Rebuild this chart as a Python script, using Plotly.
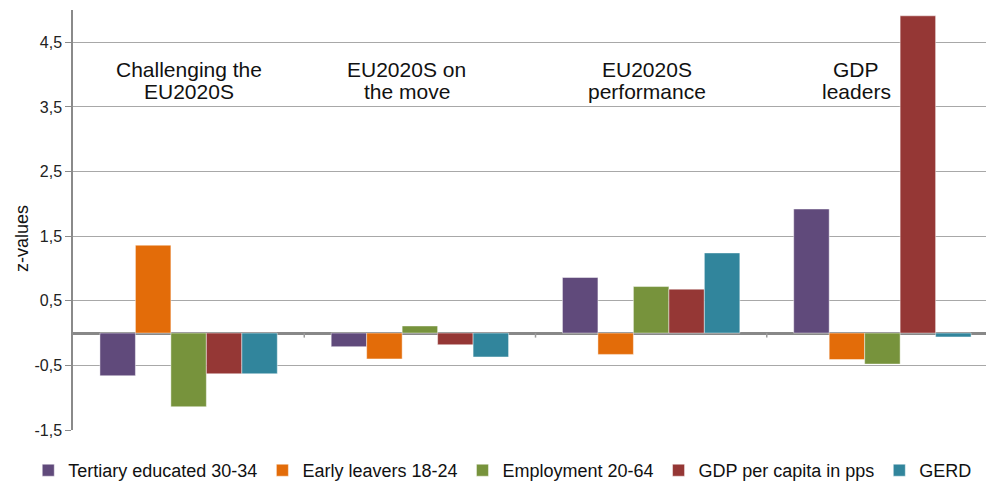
import plotly.graph_objects as go

# Clusters of EU regions and their mean z-values on each indicator
clusters = [["Challenging the", "EU2020S"], ["EU2020S on", "the move"],
            ["EU2020S", "performance"], ["GDP", "leaders"]]
series_names = ["Tertiary educated 30-34", "Early leavers 18-24", "Employment 20-64",
                "GDP per capita in pps", "GERD"]
tertiary = [-0.66, -0.21, 0.86, 1.92]
early_leavers = [1.36, -0.40, -0.33, -0.41]
employment = [-1.14, 0.11, 0.72, -0.48]
gdp_pps = [-0.63, -0.18, 0.68, 4.91]
gerd = [-0.63, -0.37, 1.24, -0.06]
series_values = [tertiary, early_leavers, employment, gdp_pps, gerd]
colors = ["#604A7B", "#E36C09", "#77933C", "#953735", "#31859C"]

tick_vals = [-1.5, -0.5, 0.5, 1.5, 2.5, 3.5, 4.5]
tick_text = ["-1,5", "-0,5", "0,5", "1,5", "2,5", "3,5", "4,5"]

x_idx = list(range(len(clusters)))
FONT = "Liberation Sans, Arial"

fig = go.Figure()
for name, vals, col in zip(series_names, series_values, colors):
    fig.add_trace(go.Bar(
        x=x_idx, y=vals, name=name,
        marker=dict(color=col, line=dict(color="rgba(255,255,255,0.45)", width=1)),
    ))

# cluster labels above each group, one annotation per line for tight spacing
label_shift = [0, -13, -4, -26]
line_y = [4.08, 3.74]
for i, (lines, dx) in enumerate(zip(clusters, label_shift)):
    for txt, yy in zip(lines, line_y):
        fig.add_annotation(x=i, y=yy, text=txt, showarrow=False, xshift=dx,
                           yanchor="middle", xanchor="center",
                           font=dict(size=21, color="#111111", family=FONT))

# y-axis title
fig.add_annotation(xref="paper", yref="paper", x=-0.0559, y=0.457, text="z-values",
                   textangle=-90, showarrow=False, xanchor="center", yanchor="middle",
                   font=dict(size=18, color="#111111", family=FONT))

# small category divider ticks along the zero line
for b in [0.5, 1.5, 2.5]:
    fig.add_shape(type="line", xref="x", yref="y", x0=b, x1=b, y0=0, y1=-0.07,
                  line=dict(color="#9a9a9a", width=1.5))

fig.update_layout(
    width=986, height=482,
    margin=dict(l=73, r=0, t=10, b=52, autoexpand=False),
    paper_bgcolor="white", plot_bgcolor="white",
    barmode="group", bargap=0.233, bargroupgap=0,
    font=dict(family=FONT, color="#222222"),
    showlegend=True,
    legend=dict(orientation="h", x=-0.049, xanchor="left", y=-0.0524, yanchor="top",
                font=dict(size=18, color="#111111"), traceorder="normal",
                itemwidth=30),
    xaxis=dict(range=[-0.5, 3.448], showticklabels=False, showgrid=False,
               zeroline=False, showline=False, ticks=""),
    yaxis=dict(range=[-1.5, 5.0], tickvals=tick_vals, ticktext=tick_text,
               showgrid=True, gridcolor="#A8A8A8", gridwidth=1,
               zeroline=True, zerolinecolor="#888888", zerolinewidth=2.5,
               showline=True, linecolor="#8a8a8a", linewidth=1.5,
               ticks="outside", ticklen=6, tickcolor="#8a8a8a",
               tickfont=dict(size=16, color="#222222")),
)

fig.write_html("out.html")
